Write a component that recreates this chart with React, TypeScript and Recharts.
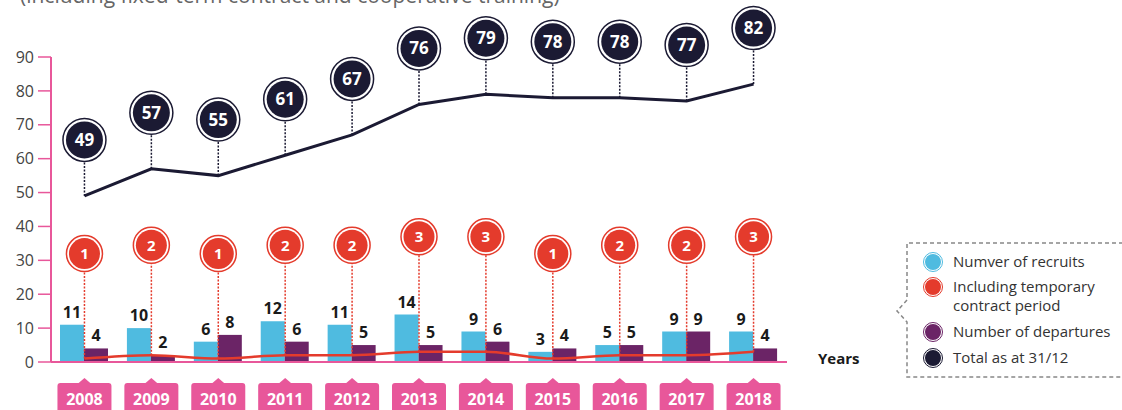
import React from "react"
import { Bar, ComposedChart, LabelList, Line, XAxis, YAxis } from "recharts"

const years = ["2008", "2009", "2010", "2011", "2012", "2013", "2014", "2015", "2016", "2017", "2018"]
const recruits = [11, 10, 6, 12, 11, 14, 9, 3, 5, 9, 9]
const temporary = [1, 2, 1, 2, 2, 3, 3, 1, 2, 2, 3]
const departures = [4, 2, 8, 6, 5, 5, 6, 4, 5, 9, 4]
const totals = [49, 57, 55, 61, 67, 76, 79, 78, 78, 77, 82]
const yTicks = [0, 10, 20, 30, 40, 50, 60, 70, 80, 90]

const data = years.map((year, i) => ({
    year,
    recruits: recruits[i],
    temporary: temporary[i],
    departures: departures[i],
    total: totals[i],
}))

const BLUE = "#4fbbe0"
const PURPLE = "#6b2466"
const RED = "#e43b2c"
const NAVY = "#1b1a33"
const PINK = "#e8579a"
const FONT = "'Open Sans', sans-serif"

function YearTick(props: any) {
    const { x, y, payload } = props
    return (
        <g>
            <path d={`M${x - 7} ${y + 20} L${x} ${y + 14} L${x + 7} ${y + 20} Z`} fill={PINK} />
            <rect x={x - 27} y={y + 19} width={54} height={34} rx={3} fill={PINK} />
            <text x={x} y={y + 41} textAnchor="middle" fill="#fff" fontSize={16} fontWeight={700} fontFamily={FONT}>
                {payload.value}
            </text>
        </g>
    )
}

function TotalDot(props: any) {
    const { cx, cy, value, index } = props
    const by = cy - 56
    return (
        <g key={`t-${index}`}>
            <line x1={cx} y1={cy} x2={cx} y2={by + 22} stroke={NAVY} strokeWidth={1.5} strokeDasharray="2 1.5" />
            <circle cx={cx} cy={by} r={21.5} fill="#fff" stroke={NAVY} strokeWidth={1.5} />
            <circle cx={cx} cy={by} r={18.5} fill={NAVY} />
            <text x={cx} y={by + 6} textAnchor="middle" fill="#fff" fontSize={17} fontWeight={700} fontFamily={FONT}>
                {value}
            </text>
        </g>
    )
}

function TempDot(props: any) {
    const { cx, cy, value, index } = props
    const by = cy - 100 - 5 * value
    return (
        <g key={`r-${index}`}>
            <line x1={cx} y1={cy} x2={cx} y2={by + 18} stroke={RED} strokeWidth={1.5} strokeDasharray="2 1.5" />
            <circle cx={cx} cy={by} r={18} fill="#fff" stroke={RED} strokeWidth={1.5} />
            <circle cx={cx} cy={by} r={15.5} fill={RED} />
            <text x={cx} y={by + 5.5} textAnchor="middle" fill="#fff" fontSize={15} fontWeight={700} fontFamily={FONT}>
                {value}
            </text>
        </g>
    )
}

const legendItems = [
    { color: BLUE, lines: ["Numver of recruits"], y: 262 },
    { color: RED, lines: ["Including temporary", "contract period"], y: 287 },
    { color: PURPLE, lines: ["Number of departures"], y: 332 },
    { color: NAVY, lines: ["Total as at 31/12"], y: 358 },
]

export default function App() {
    return (
        <div style={{ position: "absolute", left: 0, top: 0, width: 1122, height: 410, background: "#fff", overflow: "hidden" }}>
            <ComposedChart
                width={1122}
                height={410}
                data={data}
                margin={{ top: 57, right: 335, bottom: 0, left: 0 }}
                barGap={0}
            >
                <XAxis
                    dataKey="year"
                    height={48}
                    axisLine={{ stroke: PINK, strokeWidth: 2 }}
                    tickLine={false}
                    tickSize={0}
                    tick={<YearTick />}
                    interval={0}
                />
                <YAxis
                    width={51}
                    domain={[0, 90]}
                    ticks={yTicks}
                    axisLine={{ stroke: PINK, strokeWidth: 2 }}
                    tickLine={{ stroke: PINK, strokeWidth: 1.5 }}
                    tickSize={13}
                    tickMargin={4}
                    tick={{ fill: "#444", fontSize: 16, fontFamily: FONT }}
                />
                <Bar dataKey="recruits" fill={BLUE} barSize={24} isAnimationActive={false}>
                    <LabelList dataKey="recruits" position="top" offset={7} fill="#1a1a1a" fontSize={16} fontWeight={700} fontFamily={FONT} />
                </Bar>
                <Bar dataKey="departures" fill={PURPLE} barSize={24} isAnimationActive={false}>
                    <LabelList dataKey="departures" position="top" offset={7} fill="#1a1a1a" fontSize={16} fontWeight={700} fontFamily={FONT} />
                </Bar>
                <Line
                    dataKey="temporary"
                    type="monotone"
                    stroke={RED}
                    strokeWidth={2.5}
                    dot={TempDot}
                    activeDot={false}
                    isAnimationActive={false}
                />
                <Line
                    dataKey="total"
                    type="linear"
                    stroke={NAVY}
                    strokeWidth={3}
                    dot={TotalDot}
                    activeDot={false}
                    isAnimationActive={false}
                />
            </ComposedChart>
            <svg width={1122} height={410} style={{ position: "absolute", left: 0, top: 0, pointerEvents: "none" }}>
                <text x={20} y={3} fill="#666" fontSize={21} fontFamily={FONT}>
                    (including fixed-term contract and cooperative training)
                </text>
                <text x={818} y={364} fill="#1a1a1a" fontSize={15} fontWeight={700} fontFamily={FONT}>
                    Years
                </text>
                <path
                    d="M1130 243 L907 243 L907 300 L897 311 L907 322 L907 377 L1130 377"
                    fill="none"
                    stroke="#888"
                    strokeWidth={1.5}
                    strokeDasharray="4 3"
                />
                {legendItems.map((item) => (
                    <g key={item.lines[0]}>
                        <circle cx={933} cy={item.y} r={9.5} fill="#fff" stroke={item.color} strokeWidth={1} />
                        <circle cx={933} cy={item.y} r={8} fill={item.color} />
                        {item.lines.map((ln, j) => (
                            <text key={ln} x={953} y={item.y + 5 + j * 19} fill="#333" fontSize={15} fontFamily={FONT}>
                                {ln}
                            </text>
                        ))}
                    </g>
                ))}
            </svg>
        </div>
    )
}
